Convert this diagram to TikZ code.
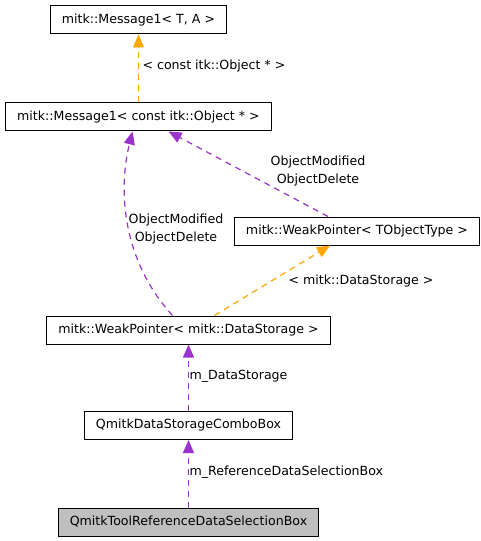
\documentclass[tikz,border=0pt]{standalone}
\usepackage{fontspec}
\setmainfont{DejaVu Sans}
\usetikzlibrary{arrows.meta}
\definecolor{tmplorange}{RGB}{255,165,0}
\definecolor{usepurple}{RGB}{154,50,205}
\definecolor{selgrey}{RGB}{191,191,191}

\begin{document}
\begin{tikzpicture}[x=1bp, y=-1bp, font=\fontsize{12.6bp}{17.5bp}\selectfont,
    cls/.style={draw, line width=1bp, inner xsep=11.5bp, inner ysep=0pt, minimum height=28bp},
    tmpl/.style={draw=tmplorange, line width=1.2bp, dash pattern=on 6bp off 5bp, -{Triangle[length=13bp, width=11bp]}},
    uses/.style={draw=usepurple, line width=1.2bp, dash pattern=on 6bp off 5bp, -{Triangle[length=13bp, width=11bp]}}]
    \useasboundingbox (0,0) rectangle (481,541);

    % classes
    \node[cls] (msgTA) at (138.5,20) {mitk::Message1< T, A >};
    \node[cls] (msgObj) at (138.5,117) {mitk::Message1< const itk::Object * >};
    \node[cls] (wpT) at (357,231) {mitk::WeakPointer< TObjectType >};
    \node[cls] (wpDS) at (188.5,330) {mitk::WeakPointer< mitk::DataStorage >};
    \node[cls] (combo) at (188.5,425.5) {QmitkDataStorageComboBox};
    \node[cls, fill=selgrey] (selBox) at (188.5,522) {QmitkToolReferenceDataSelectionBox};

    % template instances
    \draw[tmpl] (msgObj.north) -- (msgTA.south);
    \node[anchor=west] (lblObj) at (139,66) {< const itk::Object * >};
    \draw[tmpl] ([xshift=26bp]wpDS.north) -- ([xshift=-27bp]wpT.south);
    \node[anchor=west] (lblDS) at (285,281) {< mitk::DataStorage >};

    % usage
    \draw[uses] ([xshift=-16bp]wpDS.north) .. controls (122,260) and (118,190) .. ([xshift=-6bp]msgObj.south);
    \node[align=center] (lblSigA) at (176,229) {ObjectModified\\ObjectDelete};
    \draw[uses] ([xshift=-29bp]wpT.north) -- ([xshift=30bp]msgObj.south);
    \node[align=center] (lblSigB) at (318,171) {ObjectModified\\ObjectDelete};
    \draw[uses] (combo.north) -- (wpDS.south);
    \node[anchor=west] (lblStore) at (186,376) {m\_DataStorage};
    \draw[uses] (selBox.north) -- (combo.south);
    \node[anchor=west] (lblRef) at (186,472) {m\_ReferenceDataSelectionBox};
\end{tikzpicture}
\end{document}
